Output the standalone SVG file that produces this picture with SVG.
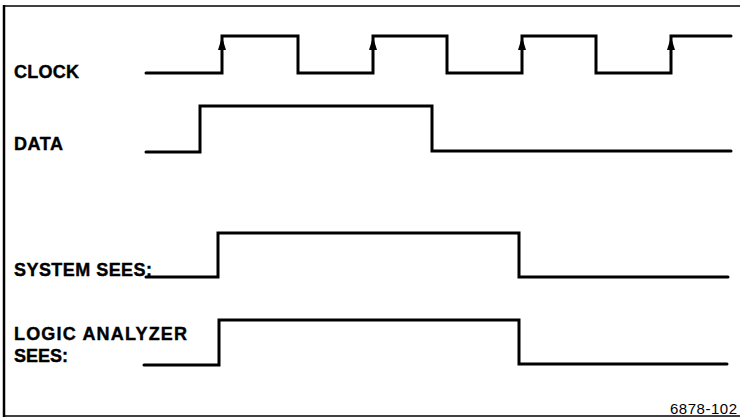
<svg xmlns="http://www.w3.org/2000/svg" width="740" height="418" viewBox="0 0 740 418">
  <defs>
    <marker id="up" viewBox="0 0 13 8" refX="13" refY="4" markerWidth="13" markerHeight="8" markerUnits="userSpaceOnUse" orient="auto">
      <path d="M0,0 L13,4 L0,8 Z" fill="#000"/>
    </marker>
  </defs>
  <style>
    .sig { fill: none; stroke: #000; stroke-width: 3; stroke-linejoin: miter; stroke-linecap: round; }
    .lbl { font-family: "Liberation Sans", Arial, sans-serif; font-weight: bold; font-size: 18px; fill: #000; stroke: #000; stroke-width: 0.4; }
    .num { font-family: "Liberation Sans", Arial, sans-serif; font-size: 15px; fill: #000; }
    .frame { stroke: #000; fill: none; }
  </style>
  <rect width="740" height="418" fill="#fff"/>
  <g id="frame">
    <line class="frame" x1="3" y1="6" x2="740" y2="6" stroke-width="1.5"/>
    <line class="frame" x1="4" y1="5" x2="4" y2="417" stroke-width="2.5"/>
    <line class="frame" x1="3" y1="416" x2="740" y2="416" stroke-width="1.5"/>
  </g>
  <g id="clock">
    <text class="lbl" x="14" y="78" textLength="65">CLOCK</text>
    <path class="sig" d="M146,73 H222 V36 H298 V73 H373 V36 H447 V73 H522 V36 H596 V73 H671 V36 H731"/>
  </g>
  <g id="data">
    <text class="lbl" x="14" y="150" textLength="49">DATA</text>
    <path class="sig" d="M146,152 H200 V106 H432 V151 H731"/>
  </g>
  <g id="system">
    <text class="lbl" x="14" y="276" textLength="138">SYSTEM SEES:</text>
    <path class="sig" d="M146,277 H218 V233 H519 V277 H728"/>
  </g>
  <g id="analyzer">
    <text class="lbl" x="14" y="340" textLength="173">LOGIC ANALYZER</text>
    <text class="lbl" x="14" y="362" textLength="54">SEES:</text>
    <path class="sig" d="M144,365 H219 V320 H519 V364 H727"/>
  </g>
  <g id="connectors">
    <line x1="222" y1="55" x2="222" y2="37" stroke="#000" stroke-width="1" marker-end="url(#up)"/>
    <line x1="373" y1="55" x2="373" y2="37" stroke="#000" stroke-width="1" marker-end="url(#up)"/>
    <line x1="522" y1="55" x2="522" y2="37" stroke="#000" stroke-width="1" marker-end="url(#up)"/>
    <line x1="671" y1="55" x2="671" y2="37" stroke="#000" stroke-width="1" marker-end="url(#up)"/>
  </g>
  <text class="num" x="670" y="414" textLength="67">6878-102</text>
</svg>
